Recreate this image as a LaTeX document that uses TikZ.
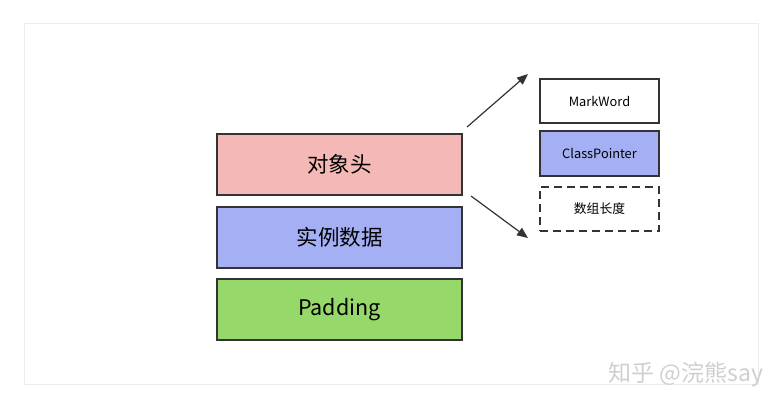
\documentclass[tikz,border=0pt]{standalone}
\usepackage{fontspec}
\newfontfamily\cjk{Noto Sans CJK SC}
\usetikzlibrary{arrows.meta,positioning}
\definecolor{headpink}{HTML}{F4B9B6}
\definecolor{datablue}{HTML}{A5AFF3}
\definecolor{padgreen}{HTML}{97D86B}
\definecolor{edgegray}{HTML}{333333}
\definecolor{framegray}{HTML}{ECECEC}
\definecolor{markgray}{HTML}{CFCFCF}

\begin{document}
\begin{tikzpicture}[x=1pt,y=-1pt,>={Triangle[length=11pt,width=9pt]},
  bigbox/.style={draw=edgegray,line width=1.1pt,minimum width=245pt,minimum height=61pt,inner sep=0pt,font=\cjk\fontsize{21.5}{25}\selectfont},
  smallbox/.style={draw=edgegray,line width=1.1pt,minimum width=119pt,minimum height=44pt,inner sep=0pt,font=\cjk\fontsize{12.8}{15}\selectfont}]
\useasboundingbox (0,0) rectangle (784,409);
\draw[framegray,line width=1pt] (24,24) rectangle (758,384);
% object layout
\node[bigbox,fill=headpink] (header) at (339.5,164.5) {对象头};
\node[bigbox,fill=datablue] (instdata) at (339.5,237.5) {实例数据};
\node[bigbox,fill=padgreen] (padding) at (339.5,309.5) {Padding};
% header parts
\node[smallbox,fill=white] (markword) at (599.5,101) {MarkWord};
\node[smallbox,fill=datablue,minimum height=45pt] (classptr) at (599.5,153.5) {ClassPointer};
\node[smallbox,dash pattern=on 8pt off 5pt] (arrlen) at (599.5,209) {数组长度};
\coordinate (up0) at (467,127);
\coordinate (up1) at (528,74);
\coordinate (dn0) at (471,196);
\coordinate (dn1) at (528,238);
\draw[->,edgegray,line width=1.2pt] (up0) -- (up1);
\draw[->,edgegray,line width=1.2pt] (dn0) -- (dn1);
\node[markgray,font=\cjk\fontsize{23}{26}\selectfont,anchor=east] (mark) at (767,374) {知乎 @浣熊say};
\end{tikzpicture}
\end{document}
